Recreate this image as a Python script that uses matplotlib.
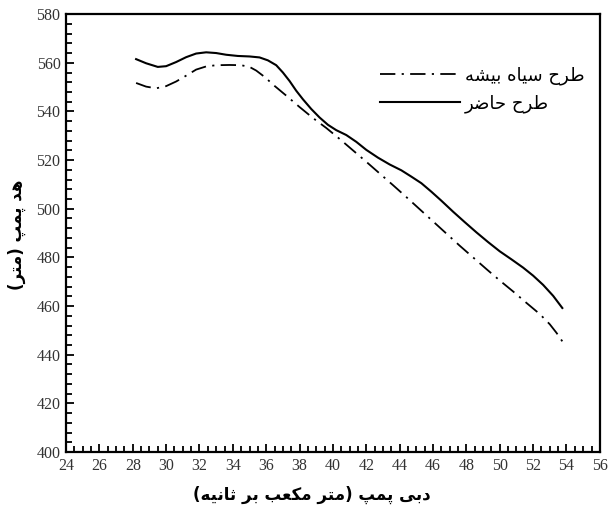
import numpy as np
import matplotlib
matplotlib.use("Agg")
import matplotlib.pyplot as plt
from matplotlib.ticker import MultipleLocator

# دبی پمپ و هد پمپ برای دو طرح
q_new = [28.2, 28.8, 29.5, 30.0, 30.6, 31.2, 31.8, 32.4, 33.0, 33.6, 34.3, 35.0,
         35.6, 36.1, 36.6, 37.0, 37.4, 37.8, 38.2, 38.7, 39.2, 39.7, 40.2, 40.8,
         41.4, 42.0, 42.7, 43.4, 44.1, 44.7, 45.3, 45.9, 46.5, 47.2, 47.9, 48.6,
         49.3, 50.0, 50.7, 51.4, 52.0, 52.6, 53.2, 53.75]
h_new = [561.5, 559.8, 558.3, 558.6, 560.3, 562.3, 563.8, 564.3, 564.0, 563.3, 562.8, 562.6,
         562.2, 561.0, 559.0, 556.0, 552.5, 548.5, 545.0, 541.0, 537.5, 534.5, 532.3, 530.3,
         527.5, 524.2, 521.0, 518.2, 515.8, 513.2, 510.5, 507.0, 503.3, 498.8, 494.5, 490.3,
         486.3, 482.5, 479.2, 475.8, 472.5, 468.7, 464.2, 459.2]

q_old = [28.2, 28.8, 29.4, 30.0, 30.6, 31.2, 31.8, 32.4, 33.0, 33.8, 34.5, 35.0,
         35.4, 35.9, 36.5, 37.2, 38.0, 38.8, 39.6, 40.4, 41.2, 42.0, 42.8, 43.6,
         44.4, 45.2, 46.0, 46.8, 47.6, 48.4, 49.2, 50.0, 50.8, 51.6, 52.4, 53.0,
         53.4, 53.75]
h_old = [551.7, 550.2, 549.5, 550.4, 552.3, 554.7, 557.2, 558.5, 559.0, 559.1, 559.0, 558.3,
         556.8, 554.2, 550.5, 546.5, 541.8, 537.3, 533.2, 528.7, 524.0, 519.3, 514.5, 509.7,
         504.8, 499.8, 494.8, 489.8, 484.8, 480.0, 475.2, 470.5, 466.0, 461.3, 456.7, 452.5,
         449.0, 445.5]

label_old = "طرح سیاه بیشه"
label_new = "طرح حاضر"
xlabel = "دبی پمپ (متر مکعب بر ثانیه)"
ylabel = "هد پمپ (متر)"

# presentation forms: isolated, final, initial, medial
FORMS = {
    "ا": ("\uFE8D", "\uFE8E"), "د": ("\uFEA9", "\uFEAA"), "ر": ("\uFEAD", "\uFEAE"),
    "ب": ("\uFE8F", "\uFE90", "\uFE91", "\uFE92"), "پ": ("\uFB56", "\uFB57", "\uFB58", "\uFB59"),
    "ت": ("\uFE95", "\uFE96", "\uFE97", "\uFE98"), "ث": ("\uFE99", "\uFE9A", "\uFE9B", "\uFE9C"),
    "ح": ("\uFEA1", "\uFEA2", "\uFEA3", "\uFEA4"), "س": ("\uFEB1", "\uFEB2", "\uFEB3", "\uFEB4"),
    "ش": ("\uFEB5", "\uFEB6", "\uFEB7", "\uFEB8"), "ض": ("\uFEBD", "\uFEBE", "\uFEBF", "\uFEC0"),
    "ط": ("\uFEC1", "\uFEC2", "\uFEC3", "\uFEC4"), "ع": ("\uFEC9", "\uFECA", "\uFECB", "\uFECC"),
    "ک": ("\uFB8E", "\uFB8F", "\uFB90", "\uFB91"), "م": ("\uFEE1", "\uFEE2", "\uFEE3", "\uFEE4"),
    "ن": ("\uFEE5", "\uFEE6", "\uFEE7", "\uFEE8"), "ه": ("\uFEE9", "\uFEEA", "\uFEEB", "\uFEEC"),
    "ی": ("\uFBFC", "\uFBFD", "\uFBFE", "\uFBFF"),
}


def shape(text):
    out = []
    n = len(text)
    for i, c in enumerate(text):
        if c not in FORMS:
            out.append({"(": ")", ")": "("}.get(c, c))
            continue
        f = FORMS[c]
        prev = text[i - 1] if i > 0 else ""
        nxt = text[i + 1] if i < n - 1 else ""
        join_prev = prev in FORMS and len(FORMS[prev]) == 4
        join_next = len(f) == 4 and nxt in FORMS
        if join_prev and join_next:
            out.append(f[3])
        elif join_prev:
            out.append(f[1])
        elif join_next:
            out.append(f[2])
        else:
            out.append(f[0])
    return "".join(reversed(out))


fa = dict(family=["DejaVu Sans"], fontweight="bold")

fig = plt.figure(figsize=(6.08, 5.08), dpi=100)
ax = fig.add_axes([0.1086, 0.1102, 0.878, 0.862])

ax.plot(q_old, h_old, color="black", lw=1.3, linestyle=(0, (8.5, 3.5, 1.2, 3.5)),
        label=shape(label_old))
ax.plot(q_new, h_new, color="black", lw=1.5, label=shape(label_new))

ax.set_xlim(24, 56)
ax.set_ylim(400, 580)
ax.xaxis.set_major_locator(MultipleLocator(2))
ax.xaxis.set_minor_locator(MultipleLocator(0.5))
ax.yaxis.set_major_locator(MultipleLocator(20))
ax.yaxis.set_minor_locator(MultipleLocator(4))
ax.tick_params(which="both", direction="in", color="black", width=1.3,
               labelsize=11.5, labelcolor="#333333")
ax.tick_params(which="major", length=6, pad=4)
ax.tick_params(which="minor", length=4)
for lab in ax.get_xticklabels() + ax.get_yticklabels():
    lab.set_fontfamily("Liberation Serif")
for s in ax.spines.values():
    s.set_linewidth(1.6)

ax.set_xlabel(shape(xlabel), fontsize=12, **fa)
ax.set_ylabel(shape(ylabel), fontsize=12, **fa)
ax.xaxis.set_label_coords(0.46, -0.076)
ax.yaxis.set_label_coords(-0.075, 0.495)

leg = ax.legend(loc="upper right", bbox_to_anchor=(0.985, 0.898), borderaxespad=0,
                frameon=False, handlelength=4.4, handletextpad=0.3, labelspacing=0.55,
                prop=dict(family="DejaVu Sans", size=13))

fig.savefig("out.png", dpi=100)
